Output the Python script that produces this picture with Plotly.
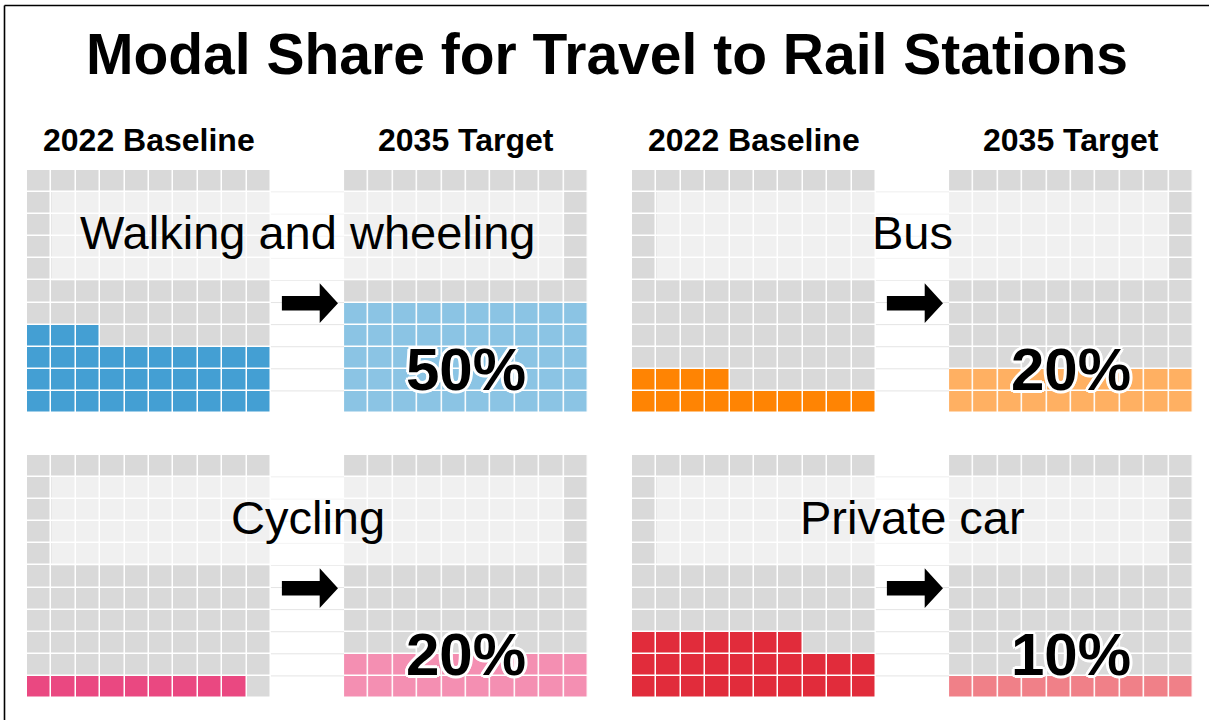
import plotly.graph_objects as go

# ---------------- data ----------------
modes = ["Walking and wheeling", "Bus", "Cycling", "Private car"]
baseline_2022 = [33, 14, 9, 27]          # cells (percent) in 2022 baseline
target_2035 = [50, 20, 20, 10]           # cells (percent) in 2035 target
target_labels = ["50%", "20%", "20%", "10%"]
base_colors = ["#449fd3", "#ff8403", "#ea4881", "#e12c3b"]
target_colors = ["#8bc4e4", "#ffb062", "#f48fb2", "#f08088"]
header_labels = ["2022 Baseline", "2035 Target"]
title_text = "Modal Share for Travel to Rail Stations"

N_ROWS = 11
N_COLS = 10
GAP = 3            # width of the blank column between the two blocks (in cell units)
GREY = "#d9d9d9"
FONT = "Liberation Sans, Arial, sans-serif"

W, H = 1209, 720
# panel pixel boxes (left, top, right, bottom)
panels_px = [(27, 170, 588, 413), (632, 170, 1193, 413),
             (27, 455, 588, 698), (632, 455, 1193, 698)]


def waffle(n):
    return [[1 if r * N_COLS + c < n else 0 for c in range(N_COLS)] for r in range(N_ROWS)]


fig = go.Figure()
layout = dict(width=W, height=H, margin=dict(l=0, r=0, t=0, b=0),
              paper_bgcolor="white", plot_bgcolor="white", showlegend=False)
annotations = []
shapes = []

x_base = list(range(N_COLS))
x_tgt = [N_COLS + GAP + i for i in range(N_COLS)]
x_gap_edges = [N_COLS - 0.5, N_COLS - 0.5 + GAP]
x_min, x_max = -0.5, N_COLS * 2 + GAP - 0.5
x_mid = (x_min + x_max) / 2
ys = list(range(N_ROWS))

for i, mode in enumerate(modes):
    l, t, r, b = panels_px[i]
    sfx = "" if i == 0 else str(i + 1)
    xa, ya = "x" + sfx, "y" + sfx
    layout["xaxis" + sfx] = dict(domain=[l / W, r / W], range=[x_min, x_max], visible=False,
                                 fixedrange=True, anchor=ya)
    layout["yaxis" + sfx] = dict(domain=[1 - b / H, 1 - t / H], range=[-0.5, N_ROWS - 0.5],
                                 visible=False, fixedrange=True, anchor=xa)

    # baseline block
    fig.add_trace(go.Heatmap(z=waffle(baseline_2022[i]), x=x_base, y=ys, xaxis=xa, yaxis=ya,
                             colorscale=[[0, GREY], [1, base_colors[i]]], zmin=0, zmax=1,
                             showscale=False, xgap=1.5, ygap=1.5, hoverinfo="skip"))
    # target block
    fig.add_trace(go.Heatmap(z=waffle(target_2035[i]), x=x_tgt, y=ys, xaxis=xa, yaxis=ya,
                             colorscale=[[0, GREY], [1, target_colors[i]]], zmin=0, zmax=1,
                             showscale=False, xgap=1.5, ygap=1.5, hoverinfo="skip"))
    # gap row separators
    gx, gy = [], []
    for k in range(N_ROWS - 1):
        gx += [x_gap_edges[0], x_gap_edges[1], None]
        gy += [k + 0.5, k + 0.5, None]
    fig.add_trace(go.Scatter(x=gx, y=gy, xaxis=xa, yaxis=ya, mode="lines",
                             line=dict(color="#e4e4e4", width=1), hoverinfo="skip"))

    # translucent label box
    shapes.append(dict(type="rect", xref=xa, yref=ya, x0=0.5, x1=x_max - 1,
                       y0=N_ROWS - 5.5, y1=N_ROWS - 1.5,
                       fillcolor="rgba(255,255,255,0.6)", line=dict(width=0), layer="above"))
    annotations.append(dict(xref=xa, yref=ya, x=x_mid, y=N_ROWS - 3.35, text=mode,
                            showarrow=False, font=dict(family=FONT, size=47, color="black")))

    # arrow in the gap
    ax0, ax1, ax2 = N_COLS - 0.05, N_COLS + 1.5, N_COLS + 2.25
    ayc = 4.47
    path = (f"M {ax0},{ayc + 0.33} L {ax1},{ayc + 0.33} L {ax1},{ayc + 0.9} L {ax2},{ayc} "
            f"L {ax1},{ayc - 0.9} L {ax1},{ayc - 0.33} L {ax0},{ayc - 0.33} Z")
    shapes.append(dict(type="path", xref=xa, yref=ya, path=path, fillcolor="black",
                       line=dict(width=0), layer="above"))

    # target percent label
    annotations.append(dict(xref=xa, yref=ya, x=(x_tgt[0] + x_tgt[-1]) / 2, y=1.45,
                            text="<b>" + target_labels[i] + "</b>", showarrow=False,
                            font=dict(family=FONT, size=60, color="black",
                                      shadow="3px 0 0 white, -3px 0 0 white, 0 3px 0 white, "
                                             "0 -3px 0 white, 2px 2px 0 white, -2px -2px 0 white, "
                                             "2px -2px 0 white, -2px 2px 0 white")))

    # column headers for top row panels
    if i < 2:
        for hx, htxt in zip([(x_base[0] + x_base[-1]) / 2, (x_tgt[0] + x_tgt[-1]) / 2], header_labels):
            annotations.append(dict(xref=xa, yref="paper", x=hx, y=1 - 140 / H, text="<b>" + htxt + "</b>",
                                    showarrow=False, yanchor="middle",
                                    font=dict(family=FONT, size=32, color="black")))

# title
annotations.append(dict(xref="paper", yref="paper", x=607 / W, y=1 - 54 / H, text="<b>" + title_text + "</b>",
                        showarrow=False, yanchor="middle", font=dict(family=FONT, size=57, color="black")))

# frame (left and top edges)
shapes.append(dict(type="line", xref="paper", yref="paper", x0=4.5 / W, x1=4.5 / W, y0=0, y1=1 - 5.5 / H,
                   line=dict(color="black", width=1.6)))
shapes.append(dict(type="line", xref="paper", yref="paper", x0=4.5 / W, x1=1, y0=1 - 5.5 / H, y1=1 - 5.5 / H,
                   line=dict(color="black", width=1.6)))

layout["annotations"] = annotations
layout["shapes"] = shapes
fig.update_layout(**layout)
fig.write_html("out.html", config={"displayModeBar": False})
